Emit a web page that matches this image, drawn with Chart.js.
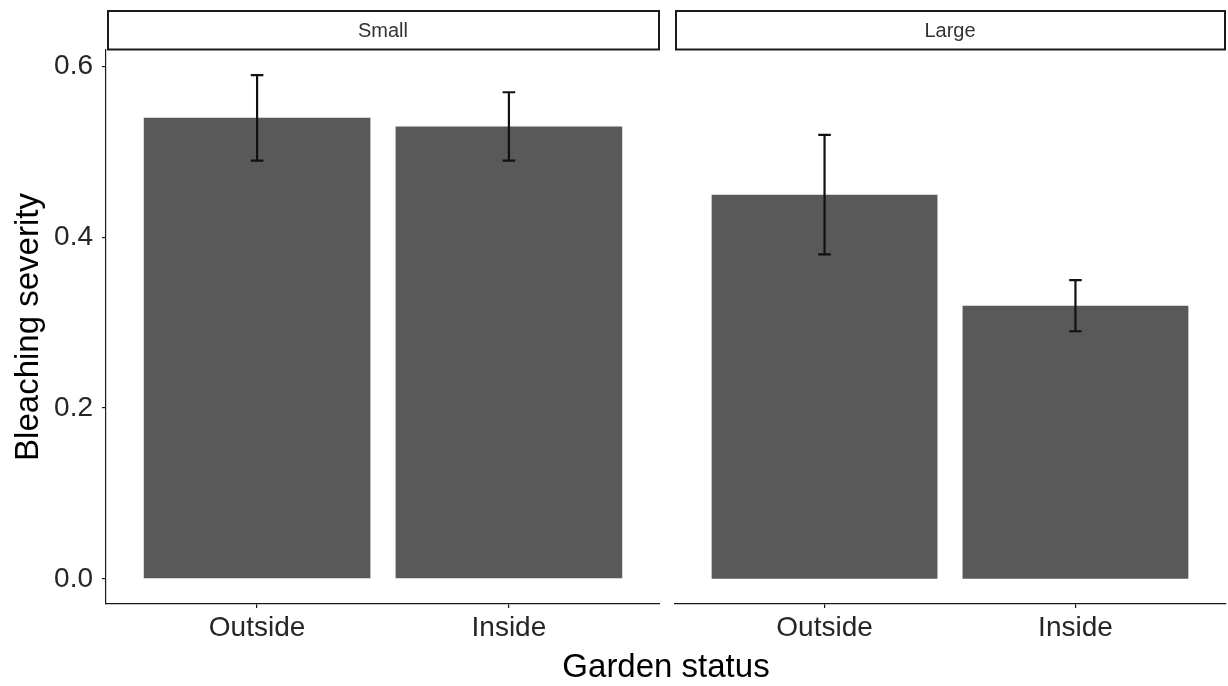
<!DOCTYPE html>
<html>
<head>
<meta charset="utf-8">
<script src="https://cdn.jsdelivr.net/npm/chart.js@4.4.1/dist/chart.umd.min.js"></script>
<style>
  html, body { margin: 0; padding: 0; background: #fff; }
  #wrap { position: relative; width: 1228px; height: 686px; overflow: hidden; background: #fff; }
  canvas { position: absolute; top: 0; }
  #xtitle {
    position: absolute; left: 106px; width: 1120px; top: 649px;
    text-align: center; line-height: 33px;
    font-family: "Liberation Sans", Arial, Helvetica, sans-serif; font-size: 33px; color: #000;
  }
</style>
</head>
<body>
<div id="wrap">
  <canvas id="panelSmall" width="660" height="686" style="left:0px"></canvas>
  <canvas id="panelLarge" width="554" height="686" style="left:674px"></canvas>
  <div id="xtitle">Garden status</div>
</div>
<script>
// Facets and categories
const facets = ['Small', 'Large'];
const statuses = ['Outside', 'Inside'];

// Mean bleaching severity with lower / upper error limits, per facet
const smallMean = [0.54, 0.53];
const smallLow  = [0.49, 0.49];
const smallHigh = [0.59, 0.57];
const largeMean = [0.45, 0.32];
const largeLow  = [0.38, 0.29];
const largeHigh = [0.52, 0.35];

// Y axis tick labels
const yTicks = [0.0, 0.2, 0.4, 0.6];

const FONT = '"Liberation Sans", Arial, Helvetica, sans-serif';
const TEXT = '#262626';
const LINE = '#1a1a1a';

// Shared y range: data span from 0 to the highest whisker, padded by 5% each side
const yTop = Math.max(...smallHigh, ...largeHigh);
const ySpan = yTop - 0;
const yMin = 0 - ySpan * 0.05;
const yMax = yTop + ySpan * 0.05;

// Discrete x positions 1..n, padded by 0.6 units each side
const positions = statuses.map((_, i) => i + 1);
const xMin = 1 - 0.6;
const xMax = statuses.length + 0.6;

// Facet label box above each panel
const stripPlugin = {
  id: 'strip',
  afterDraw(chart, args, opts) {
    const { ctx, chartArea } = chart;
    const top = 11, bottom = chartArea.top - 0.5;
    ctx.save();
    ctx.fillStyle = '#fff';
    ctx.fillRect(chartArea.left + 2, top, chartArea.right - chartArea.left - 3, bottom - top);
    ctx.strokeStyle = LINE;
    ctx.lineWidth = 2;
    ctx.strokeRect(chartArea.left + 2, top, chartArea.right - chartArea.left - 3, bottom - top);
    ctx.fillStyle = '#333';
    ctx.font = '20px ' + FONT;
    ctx.textAlign = 'center';
    ctx.textBaseline = 'middle';
    ctx.fillText(opts.label, (chartArea.left + chartArea.right) / 2, (top + bottom) / 2 + 1.5);
    ctx.restore();
  }
};

// Vertical error bars with short whiskers (0.05 x-units wide)
const errorBarPlugin = {
  id: 'errorBars',
  afterDatasetsDraw(chart, args, opts) {
    const { ctx } = chart;
    const x = chart.scales.x, y = chart.scales.y;
    const pts = chart.data.datasets[0].data;
    ctx.save();
    ctx.strokeStyle = '#111';
    ctx.lineWidth = 2.2;
    pts.forEach((p, i) => {
      const cx = x.getPixelForValue(p.x);
      const half = x.getPixelForValue(p.x + 0.025) - cx;
      const yl = y.getPixelForValue(opts.low[i]);
      const yh = y.getPixelForValue(opts.high[i]);
      ctx.beginPath();
      ctx.moveTo(cx, yl); ctx.lineTo(cx, yh);
      ctx.moveTo(cx - half, yl); ctx.lineTo(cx + half, yl);
      ctx.moveTo(cx - half, yh); ctx.lineTo(cx + half, yh);
      ctx.stroke();
    });
    ctx.restore();
  }
};

function makePanel(id, facet, means, lows, highs, showY) {
  return new Chart(document.getElementById(id), {
    type: 'bar',
    data: {
      datasets: [{
        data: positions.map((p, i) => ({ x: p, y: means[i] })),
        backgroundColor: '#595959',
        borderWidth: 0,
        categoryPercentage: 1,
        barPercentage: 0.9
      }]
    },
    options: {
      responsive: false,
      animation: false,
      events: [],
      layout: { padding: { top: 50, right: showY ? 0 : 2, bottom: 0, left: 0 } },
      plugins: {
        legend: { display: false },
        tooltip: { enabled: false },
        strip: { label: facet },
        errorBars: { low: lows, high: highs }
      },
      scales: {
        x: {
          type: 'linear',
          offset: false,
          min: xMin,
          max: xMax,
          afterBuildTicks: s => { s.ticks = positions.map(v => ({ value: v })); },
          afterFit: s => { s.height = 82; },
          ticks: {
            callback: v => statuses[v - 1],
            font: { family: FONT, size: 28 },
            color: TEXT,
            padding: 3,
            autoSkip: false,
            maxRotation: 0
          },
          grid: { offset: false, drawOnChartArea: false, drawTicks: true, tickLength: 4, color: LINE, lineWidth: 1.2 },
          border: { display: true, color: LINE, width: 1.2 }
        },
        y: {
          display: showY,
          min: yMin,
          max: yMax,
          afterBuildTicks: s => { s.ticks = yTicks.map(v => ({ value: v })); },
          afterFit: s => { s.width = showY ? 106 : 0; },
          ticks: {
            callback: v => Number(v).toFixed(1),
            font: { family: FONT, size: 28 },
            color: TEXT,
            padding: 9
          },
          grid: { drawOnChartArea: false, drawTicks: true, tickLength: 4, color: LINE, lineWidth: 1.2 },
          border: { display: true, color: LINE, width: 1.2 },
          title: {
            display: true,
            text: 'Bleaching severity',
            font: { family: FONT, size: 33 },
            color: '#000',
            padding: { top: 9, bottom: 0 }
          }
        }
      }
    },
    plugins: [stripPlugin, errorBarPlugin]
  });
}

makePanel('panelSmall', facets[0], smallMean, smallLow, smallHigh, true);
makePanel('panelLarge', facets[1], largeMean, largeLow, largeHigh, false);
</script>
</body>
</html>
